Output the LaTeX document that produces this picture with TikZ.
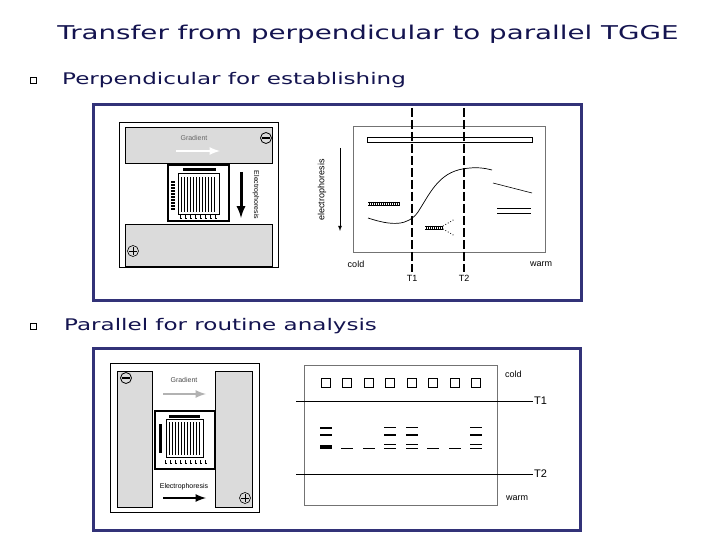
\documentclass[tikz,border=0pt]{standalone}
\usepackage{fontspec}
\setmainfont{DejaVu Sans}
\setsansfont{Liberation Sans}
\begin{document}
\begin{tikzpicture}[x=1pt,y=-1pt,
  navy/.style={draw=frame,line width=3pt},
  gband/.style={fill=black!14,draw=black,line width=0.6pt},
  small/.style={font=\sffamily\fontsize{7}{8}\selectfont,inner sep=0pt},
  lbl/.style={font=\sffamily\fontsize{9}{10}\selectfont,inner sep=0pt},
  head/.style={font=\fontsize{16}{18}\selectfont,text=titlec,inner sep=0pt,anchor=west},
  bul/.style={draw=black,line width=0.5pt,minimum size=6pt,inner sep=0pt},
  vl/.style={line width=2pt,dash pattern=on 9pt off 3pt},
  well/.style={draw=black,line width=0.8pt,minimum size=9pt,inner sep=0pt}]
\definecolor{frame}{RGB}{50,50,120}
\definecolor{titlec}{RGB}{20,20,80}
\useasboundingbox (0,0) rectangle (720,540);
\fill[white] (0,0) rectangle (720,540);
\node[font=\fontsize{19}{22}\selectfont,text=titlec,inner sep=0pt] (title) at (368,34) {\scalebox{1.46}[1]{Transfer from perpendicular to parallel TGGE}};
\node[bul] (b1) at (33,80) {};
\node[head] (h1) at (62,80) {\scalebox{1.44}[1]{Perpendicular for establishing}};
\node[bul] (b2) at (33,326) {};
\node[head] (h2) at (64,326) {\scalebox{1.44}[1]{Parallel for routine analysis}};
% top panel
\draw[navy] (93,105) rectangle (581,300);
\draw[line width=0.8pt] (119,122) rectangle (278,267);
\draw[gband] (125,127) rectangle (272,163);
\draw[gband] (125,224) rectangle (272,266);
\node[small,text=black!60] (g1) at (194,138) {Gradient};
\draw[white,line width=2.5pt,-latex] (176,151) -- (220,151);
\node[draw,circle,line width=0.8pt,minimum size=11pt,inner sep=0pt] (m1) at (266,138) {};
\draw[line width=1.2pt] (262,138)--(270,138);
\node[draw,circle,line width=0.6pt,minimum size=11pt,inner sep=0pt] (p1) at (133,251) {};
\draw (129,251)--(137,251) (133,247)--(133,255);
\draw[line width=1.5pt] (168,165) rectangle (229,221);
\draw[line width=0.8pt] (178,173) rectangle (219,214);
\foreach \x in {181,184,...,216} \draw[line width=0.6pt] (\x,177)--(\x,212);
\fill (183,168) rectangle (216,171);
\foreach \y in {181,184,...,208} \fill (171,\y) rectangle (175,\y+2);
\foreach \x in {180,185,...,216} \draw[line width=0.8pt] (\x,215)--(\x,218)--(\x+2,218);
\draw[line width=3pt,-{latex}] (241,172) -- (241,218);
\node[small,rotate=-90] (ep1) at (256,195) {Electrophoresis};
% right chart
\draw[black!55,line width=0.8pt] (353,126) rectangle (545,252);
\draw[line width=0.5pt] (367,137) rectangle (532,142);
\draw[line width=0.7pt] (368,218) .. controls (392,226) and (408,226) .. (418,212) .. controls (432,190) and (440,170) .. (470,168) .. controls (480,167) and (488,169) .. (492,170);
\draw[line width=0.6pt] (493,183) -- (532,193);
\draw[line width=0.8pt] (497,208)--(531,208) (497,213)--(531,213);
\draw[line width=0.6pt] (368,202)--(400,202) (368,205)--(400,205);
\foreach \x in {369,371,...,400} \draw[line width=0.4pt] (\x,202)--(\x,205);
\draw[line width=0.6pt] (425,226)--(443,226) (425,229)--(443,229);
\foreach \x in {426,428,...,443} \draw[line width=0.4pt] (\x,226)--(\x,229);
\draw[line width=0.8pt,dotted] (443,226)--(455,219) (443,229)--(455,236);
\coordinate (t1a) at (412,108); \coordinate (t1b) at (412,272);
\coordinate (t2a) at (464,108); \coordinate (t2b) at (464,272);
\draw[vl] (t1a)--(t1b); \draw[vl] (t2a)--(t2b);
\node[lbl] (T1a) at (412,278) {T1};
\node[lbl] (T2a) at (464,278) {T2};
\node[lbl] (cold1) at (356,264) {cold};
\node[lbl] (warm1) at (541,264) {warm};
\coordinate (ea) at (340,148); \coordinate (eb) at (340,231);
\draw[line width=0.8pt,-latex] (ea)--(eb);
\node[lbl,rotate=90] (ep2) at (322,190) {electrophoresis};
% bottom panel
\draw[navy] (93,348) rectangle (580,530);
\draw[line width=0.8pt] (110,363) rectangle (259,512);
\draw[gband] (117,371) rectangle (152,507);
\draw[gband] (215,371) rectangle (252,507);
\node[draw,circle,line width=0.8pt,minimum size=11pt,inner sep=0pt] (m2) at (126,378) {};
\draw[line width=1.2pt] (122,378)--(130,378);
\node[draw,circle,line width=0.6pt,minimum size=11pt,inner sep=0pt] (p2) at (245,498) {};
\draw (241,498)--(249,498) (245,494)--(245,502);
\node[small,text=black!70] (g2) at (184,380) {Gradient};
\draw[black!30,line width=2.5pt,-latex] (163,394) -- (206,394);
\node[small] (ep3) at (184,487) {Electrophoresis};
\draw[line width=2.5pt,-latex] (163,498) -- (206,498);
\draw[line width=2pt] (155,411) rectangle (215,469);
\draw[line width=0.8pt] (166,419) rectangle (203,457);
\foreach \x in {169,172,...,201} \draw[line width=0.6pt] (\x,422)--(\x,455);
\fill (169,415) rectangle (200,418);
\fill (159,424) rectangle (162,453);
\foreach \x in {165,170,...,205} \draw[line width=0.8pt] (\x,460)--(\x,463)--(\x+2,463);
% right gel
\draw[black!55,line width=1pt] (304,365) rectangle (497,505);
\foreach \i/\x in {1/326,2/347,3/369,4/390,5/412,6/433,7/455,8/476}
  \node[well] (w\i) at (\x,383) {};
\coordinate (l1a) at (296,401); \coordinate (l1b) at (533,401);
\coordinate (l2a) at (296,474); \coordinate (l2b) at (533,474);
\draw[line width=0.6pt] (l1a)--(l1b); \draw[line width=0.6pt] (l2a)--(l2b);
\node[lbl,anchor=west,font=\sffamily\fontsize{11}{12}\selectfont] (T1b) at (534,401) {T1};
\node[lbl,anchor=west,font=\sffamily\fontsize{11}{12}\selectfont] (T2b) at (534,474) {T2};
\node[lbl,anchor=west] (cold2) at (505,374) {cold};
\node[lbl,anchor=west] (warm2) at (506,498) {warm};
% lane 1
\fill (320,427) rectangle (332,429); \fill (320,434) rectangle (332,436);
\fill (320,445) rectangle (332,449);
\foreach \x in {347,369,433,455} \draw[line width=0.6pt] (\x-6,448)--(\x+6,448);
\foreach \x in {390,412,476} {
  \draw[line width=0.5pt] (\x-6,427)--(\x+6,427);
  \fill (\x-6,434) rectangle (\x+6,436);
  \draw[line width=0.5pt] (\x-6,444)--(\x+6,444) (\x-6,448)--(\x+6,448);
}
\end{tikzpicture}
\end{document}
